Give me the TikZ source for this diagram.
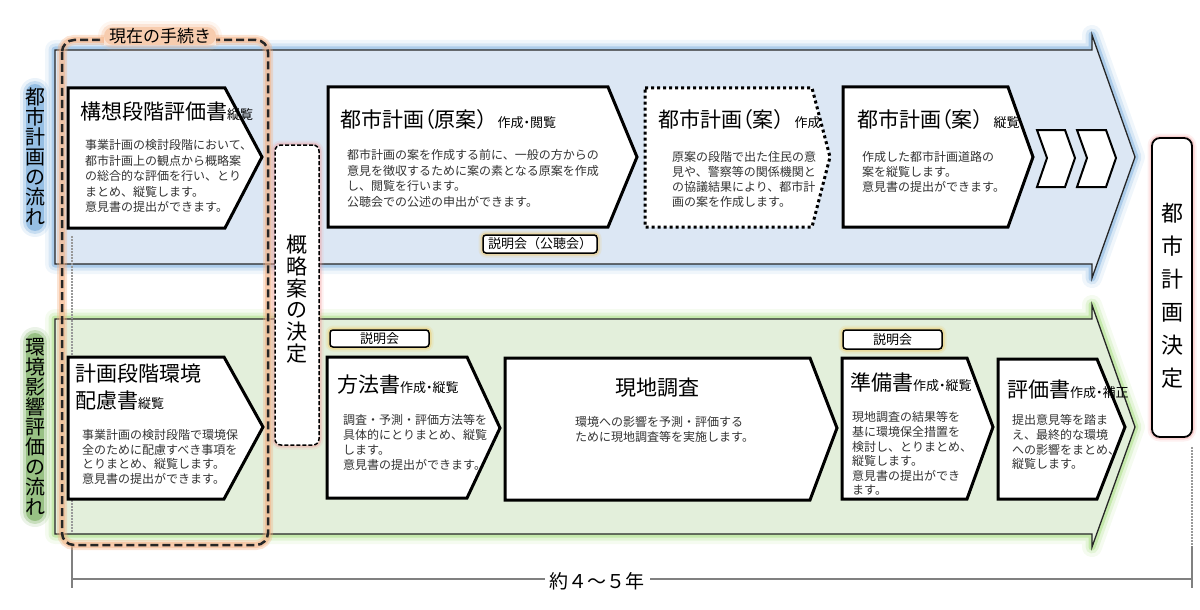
\documentclass[tikz,border=0pt]{standalone}
\usepackage{fontspec}
\setmainfont{Noto Sans CJK JP}
\newfontfamily\ttlfont[RawFeature=+palt]{Noto Sans CJK JP}
\newfontfamily\plainttl{Noto Sans CJK JP}
\definecolor{bandblue}{HTML}{DCE7F4}
\definecolor{glowblue}{HTML}{5B9BD5}
\definecolor{bandgreen}{HTML}{E3EFDB}
\definecolor{glowgreen}{HTML}{8CD35A}
\definecolor{lblgreen}{HTML}{5E9E3E}
\definecolor{gloworange}{HTML}{F4B183}
\definecolor{glowpink}{HTML}{F29A9A}
\definecolor{glowgold}{HTML}{F2C14E}
\definecolor{bodygray}{HTML}{333333}
\definecolor{guidegray}{HTML}{808080}
\newcommand\sm[1]{{\fontsize{13}{13}\selectfont #1}}
\newcommand\cparen{{\plainttl ）}}
\tikzset{
  bigglow/.style={
    preaction={draw=#1,solid,line width=20,opacity=.09,line join=round},
    preaction={draw=#1,solid,line width=13,opacity=.17,line join=round},
    preaction={draw=#1,solid,line width=7,opacity=.35,line join=round}},
  smallglow/.style={
    preaction={draw=#1,solid,line width=9,opacity=.15,line join=round},
    preaction={draw=#1,solid,line width=5,opacity=.35,line join=round}},
  colglow/.style={line cap=round,
    preaction={draw=#1,line width=30,opacity=.12,line cap=round},
    preaction={draw=#1,line width=24,opacity=.25,line cap=round},
    preaction={draw=#1,line width=18,opacity=.45,line cap=round}},
  bandshape/.style={draw=black!85,line width=1.3,line join=miter},
  stepshape/.style={draw=black,line width=3,fill=white,line join=miter},
  chevshape/.style={draw=black,line width=2,fill=white,line join=miter},
  ttl/.style={anchor=west,inner sep=0,font=\ttlfont\fontsize{21}{27}\selectfont},
  bodytext/.style={anchor=north west,inner sep=0,align=left,text=bodygray,
    font=\fontsize{12}{15.5}\selectfont},
  bodytextb/.style={anchor=north west,inner sep=0,align=left,text=bodygray,
    font=\fontsize{12}{14.6}\selectfont},
  meetbox/.style={draw=black,line width=1.5,fill=white,rounded corners=3,
    smallglow=glowgold,inner sep=0,font=\fontsize{13}{13}\selectfont},
  vlabel/.style={inner sep=0,align=center,font=\fontsize{20}{20}\selectfont},
  guide/.style={draw=guidegray,line width=2},
  guidedot/.style={draw=guidegray!80,line width=1.5,dash pattern=on 1.5pt off 1.5pt},
}
\begin{document}
\begin{tikzpicture}[x=1pt,y=-1pt]
\useasboundingbox (0,0) rectangle (1200,610);
% bands
\draw[bandshape,fill=bandblue,bigglow=glowblue]
  (55,50) -- (1092,50) -- (1092,35) -- (1135,157) -- (1092,278) -- (1092,264) -- (55,264) -- cycle;
\draw[bandshape,fill=bandgreen,bigglow=glowgreen]
  (55,319) -- (1092,319) -- (1092,305) -- (1135,427) -- (1092,547) -- (1092,534) -- (55,534) -- cycle;
% guide lines
\coordinate (gl1) at (72,236);
\coordinate (gl2) at (72,532);
\coordinate (gl3) at (72,546);
\coordinate (gl4) at (72,588);
\coordinate (gr1) at (1192,447);
\coordinate (gr3) at (1192,546);
\coordinate (gr4) at (1192,588);
\coordinate (hl) at (72,579);
\coordinate (hr) at (1192,579);
\draw[guidedot] (gl1) -- (gl2);
\draw[guidedot] (gr1) -- (gr3);
\draw[guide] (gl3) -- (gl4);
\draw[guide] (gr3) -- (gr4);
\draw[guide] (hl) -- (hr);
\node[fill=white,inner xsep=5,inner ysep=1,font=\fontsize{19}{19}\selectfont] (period) at (597,581) {約４～５年};
% current procedure frame
\draw[draw=black!85,line width=2.5,dash pattern=on 8pt off 4pt,rounded corners=12,
  preaction={draw=gloworange,solid,line width=10,opacity=.35},
  preaction={draw=gloworange,solid,line width=6,opacity=.5}]
  (62,40) rectangle (268,545);
\fill[white] (104,27) rectangle (216,45);
\coordinate (cg1) at (113,36);
\coordinate (cg2) at (207,36);
\path[colglow=gloworange] (cg1) -- (cg2);
\node[inner sep=0,font=\fontsize{17}{17}\selectfont] (cur) at (160,36) {現在の手続き};
% side labels
\coordinate (fa1) at (35,93);
\coordinate (fa2) at (35,222);
\path[colglow=glowblue] (fa1) -- (fa2);
\node[vlabel] (flowA) at (35,157) {都\\市\\計\\画\\の\\流\\れ};
\coordinate (fb1) at (35,342);
\coordinate (fb2) at (35,512);
\path[colglow=lblgreen] (fb1) -- (fb2);
\node[vlabel] (flowB) at (35,427) {環\\境\\影\\響\\評\\価\\の\\流\\れ};
% top row steps
\draw[stepshape] (68,88) -- (225,88) -- (262,157) -- (225,228) -- (68,228) -- cycle;
\node[ttl] (tA) at (80,112) {構想段階評価書\sm{縦覧}};
\node[bodytext] (bA) at (85,139.5) {事業計画の検討段階において、\\都市計画上の観点から概略案\\の総合的な評価を行い、とり\\まとめ、縦覧します。\\意見書の提出ができます。};
\draw[stepshape] (328,87) -- (608,87) -- (637,157) -- (608,227) -- (328,227) -- cycle;
\node[ttl] (tB) at (340,120) {都市計画（原案\cparen\sm{作成・閲覧}};
\node[bodytext] (bB) at (347,149.5) {都市計画の案を作成する前に、一般の方からの\\意見を徴収するために案の素となる原案を作成\\し、閲覧を行います。\\公聴会での公述の申出ができます。};
\draw[draw=black,line width=3,dash pattern=on 3pt off 3pt,fill=white] (645,88) -- (812,88) -- (830,157) -- (812,227) -- (645,227) -- cycle;
\node[ttl] (tC) at (658,120) {都市計画（案\cparen\sm{作成}};
\node[bodytext,font=\fontsize{12}{15}\selectfont] (bC) at (672,151.5) {原案の段階で出た住民の意\\見や、警察等の関係機関と\\の協議結果により、都市計\\画の案を作成します。};
\draw[stepshape] (843,87) -- (1008,87) -- (1033,157) -- (1008,227) -- (843,227) -- cycle;
\node[ttl] (tD) at (857,120) {都市計画（案\cparen\sm{縦覧}};
\node[bodytext,font=\fontsize{12}{15}\selectfont] (bD) at (862,151.5) {作成した都市計画道路の\\案を縦覧します。\\意見書の提出ができます。};
\draw[chevshape] (1037,130) -- (1065,130) -- (1075,158) -- (1065,187) -- (1037,187) -- (1047,158) -- cycle;
\draw[chevshape] (1077,130) -- (1106,130) -- (1116,158) -- (1106,187) -- (1077,187) -- (1087,158) -- cycle;
\node[meetbox,minimum width=114,minimum height=18] (mB) at (540,244) {説明会（公聴会）};
% decision boxes
\node[draw=black,line width=1.5,dash pattern=on 4pt off 2pt,fill=white,rounded corners=6,
  smallglow=glowpink,minimum width=44,minimum height=300,inner sep=0] (outline) at (297,295) {};
\node[inner sep=0,align=center,font=\fontsize{21}{21.7}\selectfont] (outlineT) at (297,299) {概\\略\\案\\の\\決\\定};
\node[draw=black,line width=1.8,fill=white,rounded corners=8,
  smallglow=glowpink,minimum width=40,minimum height=299,inner sep=0] (final) at (1172,287.5) {};
\node[inner sep=0,align=center,font=\fontsize{22}{33}\selectfont] (finalT) at (1172,296) {都\\市\\計\\画\\決\\定};
% bottom row steps
\draw[stepshape] (68,357) -- (224,357) -- (263,427) -- (224,499) -- (68,499) -- cycle;
\node[ttl,anchor=north west,align=left] (tE) at (75,363.5) {計画段階環境\\配慮書\sm{縦覧}};
\node[bodytextb] (bE) at (82,429.5) {事業計画の検討段階で環境保\\全のために配慮すべき事項を\\とりまとめ、縦覧します。\\意見書の提出ができます。};
\draw[stepshape] (327,357) -- (467,357) -- (500,428) -- (467,498) -- (327,498) -- cycle;
\node[ttl] (tF) at (337,385) {方法書\sm{作成・縦覧}};
\node[bodytext,font=\fontsize{12}{15}\selectfont] (bF) at (343,414.5) {調査・予測・評価方法等を\\具体的にとりまとめ、縦覧\\します。\\意見書の提出ができます。};
\node[meetbox,minimum width=99,minimum height=17] (mF) at (379.5,338.5) {説明会};
\draw[stepshape] (505,358) -- (810,358) -- (837,428) -- (810,500) -- (505,500) -- cycle;
\node[ttl,anchor=center] (tG) at (657,388) {現地調査};
\node[bodytext,font=\fontsize{12}{15}\selectfont] (bG) at (575,416.5) {環境への影響を予測・評価する\\ために現地調査等を実施します。};
\draw[stepshape] (842,358) -- (967,358) -- (993,427) -- (967,499) -- (842,499) -- cycle;
\node[ttl] (tH) at (850,382) {準備書\sm{作成・縦覧}};
\node[bodytextb] (bH) at (852,411.5) {現地調査の結果等を\\基に環境保全措置を\\検討し、とりまとめ、\\縦覧します。\\意見書の提出ができ\\ます。};
\node[meetbox,minimum width=99,minimum height=19] (mH) at (892.5,339.5) {説明会};
\draw[stepshape] (998,359) -- (1097,359) -- (1125,427) -- (1097,499) -- (998,499) -- cycle;
\node[ttl] (tI) at (1007,390) {評価書\sm{作成・補正}};
\node[bodytextb] (bI) at (1012,414.5) {提出意見等を踏ま\\え、最終的な環境\\への影響をまとめ、\\縦覧します。};
\end{tikzpicture}
\end{document}
